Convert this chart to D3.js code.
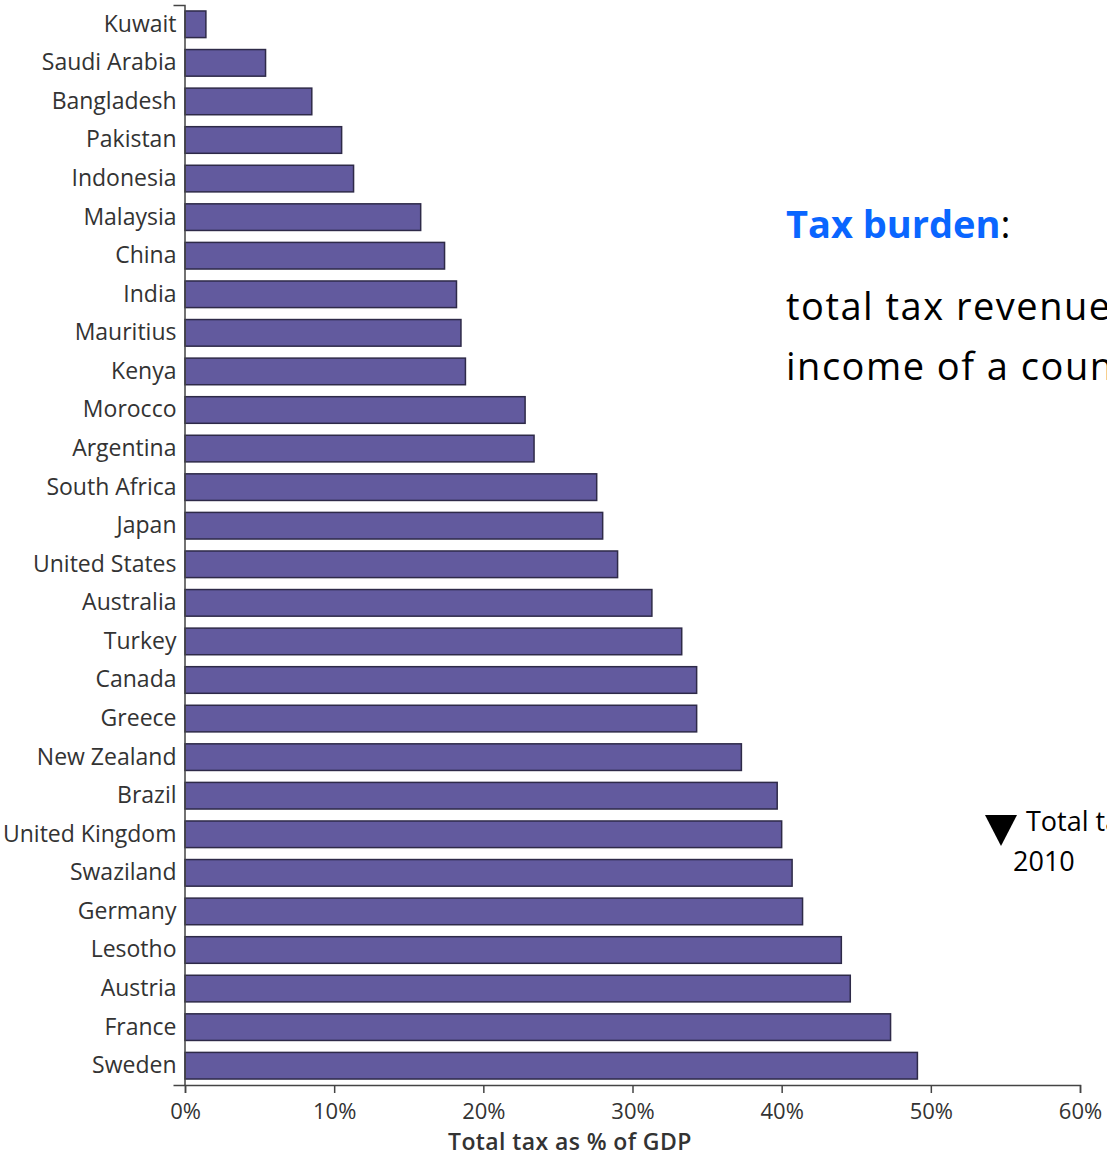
<!DOCTYPE html>
<html>
<head>
<meta charset="utf-8">
<script src="https://cdn.jsdelivr.net/npm/d3@7"></script>
<style>
  body { margin: 0; background: #fff; overflow: hidden; }
  .axis text { font-family: "Open Sans", "DejaVu Sans", sans-serif; fill: #333; }
  .axis path, .axis line { stroke: #444; stroke-width: 1.5; }
  .note { font-family: "Open Sans", "Noto Sans", sans-serif; fill: #000; }
</style>
</head>
<body>
<svg id="chart" width="1107" height="1157"></svg>
<script>
// countries, top to bottom
var countries = ["Kuwait", "Saudi Arabia", "Bangladesh", "Pakistan", "Indonesia", "Malaysia",
  "China", "India", "Mauritius", "Kenya", "Morocco", "Argentina", "South Africa", "Japan",
  "United States", "Australia", "Turkey", "Canada", "Greece", "New Zealand", "Brazil",
  "United Kingdom", "Swaziland", "Germany", "Lesotho", "Austria", "France", "Sweden"];

// total tax as % of GDP, 2010
var taxShare = [1.4, 5.4, 8.5, 10.5, 11.3, 15.8, 17.4, 18.2, 18.5, 18.8, 22.8, 23.4, 27.6, 28.0,
  29.0, 31.3, 33.3, 34.3, 34.3, 37.3, 39.7, 40.0, 40.7, 41.4, 44.0, 44.6, 47.3, 49.1];

var xTicks = [0, 10, 20, 30, 40, 50, 60];

var svg = d3.select("#chart");

var x = d3.scaleLinear().domain([0, 60]).range([185, 1080]);
var y = d3.scaleBand().domain(countries).range([5, 1085])
  .paddingInner(0.31).paddingOuter(0.155);

// bars
svg.append("g").selectAll("rect")
  .data(countries)
  .enter().append("rect")
  .attr("x", x(0))
  .attr("y", function (d) { return y(d); })
  .attr("width", function (d, i) { return x(taxShare[i]) - x(0); })
  .attr("height", y.bandwidth())
  .attr("fill", "#625a9e")
  .attr("stroke", "#2e2a48")
  .attr("stroke-width", 1.5);

// y axis
var yAxis = svg.append("g")
  .attr("class", "axis")
  .attr("transform", "translate(" + (x(0) - 0.5) + ",0)")
  .call(d3.axisLeft(y).tickSizeInner(0).tickSizeOuter(11).tickPadding(8));
yAxis.selectAll("text").style("font-size", "23px");

// x axis
var xAxis = svg.append("g")
  .attr("class", "axis")
  .attr("transform", "translate(0," + 1085 + ")")
  .call(d3.axisBottom(x).tickValues(xTicks).tickSize(8).tickPadding(10)
    .tickFormat(function (d) { return d + "%"; }));
xAxis.selectAll("text").style("font-size", "22px");

svg.append("text")
  .attr("x", x(25.8))
  .attr("y", 1150)
  .attr("text-anchor", "middle")
  .style("font-family", "'Open Sans', sans-serif")
  .style("font-size", "23px")
  .style("font-weight", "600")
  .style("letter-spacing", "0.4px")
  .style("fill", "#333")
  .text("Total tax as % of GDP");

// annotation on the right (runs off the edge, as in the source slide)
var note = svg.append("text")
  .attr("class", "note")
  .attr("x", 786)
  .attr("y", 238)
  .style("font-size", "38px");
note.append("tspan").style("fill", "#0a66ff").style("font-weight", "bold").text("Tax burden");
note.append("tspan").text(":");

svg.append("text")
  .attr("class", "note")
  .attr("x", 786).attr("y", 320)
  .style("font-size", "38px")
  .style("letter-spacing", "1.5px")
  .text("total tax revenue as a share of the");
svg.append("text")
  .attr("class", "note")
  .attr("x", 786).attr("y", 380)
  .style("font-size", "38px")
  .style("letter-spacing", "1.5px")
  .text("income of a country");

svg.append("path")
  .attr("d", "M985,815 L1017,815 L1001,846 Z")
  .attr("fill", "#000");
svg.append("text")
  .attr("class", "note")
  .attr("x", 1026).attr("y", 831)
  .style("font-size", "27px")
  .text("Total tax burden,");
svg.append("text")
  .attr("class", "note")
  .attr("x", 1013).attr("y", 871)
  .style("font-size", "27px")
  .text("2010");
</script>
</body>
</html>
